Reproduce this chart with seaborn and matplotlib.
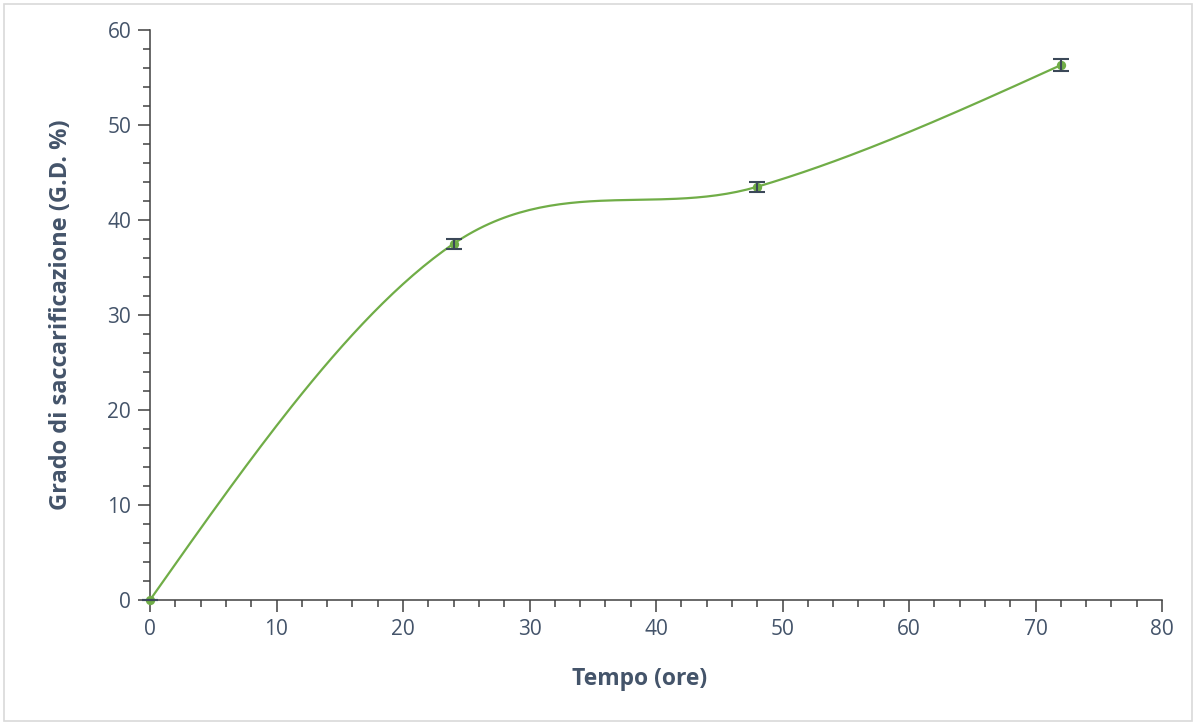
import numpy as np
import pandas as pd
import matplotlib
matplotlib.use("Agg")
import matplotlib.pyplot as plt
from matplotlib.patches import Rectangle
from matplotlib.ticker import MultipleLocator
import seaborn as sns

# Saccharification degree over time
tempo_ore = [0, 24, 48, 72]
grado_sacc = [0.0, 37.5, 43.5, 56.3]
errore = [0.0, 0.5, 0.5, 0.6]

x_ticks = [0, 10, 20, 30, 40, 50, 60, 70, 80]
y_ticks = [0, 10, 20, 30, 40, 50, 60]
x_label = "Tempo (ore)"
y_label = "Grado di saccarificazione (G.D. %)"

LINE_GREEN = "#70AD47"
TEXT_BLUE = "#44546A"
AXIS_GREY = "#404040"
ERR_COLOR = "#3B4858"


def smooth_curve(xp, yp, n=60):
    """Piecewise cubic Hermite curve through the points (Catmull-Rom tangents)."""
    xp = np.asarray(xp, float)
    yp = np.asarray(yp, float)
    k = len(xp)
    m = np.zeros(k)
    for i in range(1, k - 1):
        m[i] = (yp[i + 1] - yp[i - 1]) / (xp[i + 1] - xp[i - 1])
    m[0] = (3 * (yp[1] - yp[0]) / (xp[1] - xp[0]) - m[1]) / 2
    m[-1] = (3 * (yp[-1] - yp[-2]) / (xp[-1] - xp[-2]) - m[-2]) / 2
    xs, ys = [], []
    for i in range(k - 1):
        h = xp[i + 1] - xp[i]
        t = np.linspace(0, 1, n, endpoint=(i == k - 2))
        h00 = 2 * t**3 - 3 * t**2 + 1
        h10 = t**3 - 2 * t**2 + t
        h01 = -2 * t**3 + 3 * t**2
        h11 = t**3 - t**2
        xs.append(xp[i] + t * h)
        ys.append(h00 * yp[i] + h10 * h * m[i] + h01 * yp[i + 1] + h11 * h * m[i + 1])
    return np.concatenate(xs), np.concatenate(ys)


sns.set_theme(style="ticks")
plt.rcParams["font.family"] = ["Open Sans", "DejaVu Sans"]

fig = plt.figure(figsize=(11.96, 7.25), dpi=100)
ax = fig.add_axes([150 / 1196, 125 / 725, 1012 / 1196, 570 / 725])

df = pd.DataFrame({"tempo": tempo_ore, "grado": grado_sacc, "err": errore})
sx, sy = smooth_curve(df["tempo"], df["grado"])
curve = pd.DataFrame({"tempo": sx, "grado": sy})

sns.lineplot(data=curve, x="tempo", y="grado", sort=False, color=LINE_GREEN,
             linewidth=1.6, ax=ax, zorder=2)
sns.scatterplot(data=df, x="tempo", y="grado", color=LINE_GREEN, s=45,
                edgecolor=LINE_GREEN, linewidth=0, ax=ax, zorder=3, clip_on=False)
ax.errorbar(df["tempo"], df["grado"], yerr=df["err"], fmt="none",
            ecolor=ERR_COLOR, elinewidth=1.5, capsize=5.5, capthick=1.5,
            zorder=4, clip_on=False)

ax.set_xlim(0, 80)
ax.set_ylim(0, 60)
ax.set_xticks(x_ticks)
ax.set_yticks(y_ticks)
ax.xaxis.set_minor_locator(MultipleLocator(2))
ax.yaxis.set_minor_locator(MultipleLocator(2))

for side in ["top", "right"]:
    ax.spines[side].set_visible(False)
for side in ["left", "bottom"]:
    ax.spines[side].set_color(AXIS_GREY)
    ax.spines[side].set_linewidth(1.1)

ax.tick_params(which="major", length=8.5, width=1.1, color=AXIS_GREY,
               labelsize=15, labelcolor=TEXT_BLUE, direction="out")
ax.tick_params(which="minor", length=5, width=1.1, color=AXIS_GREY, direction="out")
ax.tick_params(axis="x", which="major", pad=5)
ax.tick_params(axis="y", which="major", pad=5)

ax.set_xlabel(x_label, fontsize=16.5, fontweight="bold", color=TEXT_BLUE)
ax.set_ylabel(y_label, fontsize=17, fontweight="bold", color=TEXT_BLUE)
ax.xaxis.set_label_coords((640 - 150) / 1012, (600 - 679) / 570)
ax.xaxis.label.set_va("center")
ax.yaxis.set_label_coords((61 - 150) / 1012, (600 - 315) / 570)
ax.yaxis.label.set_va("center")

fig.patches.append(Rectangle((4 / 1196, 4 / 725), 1188 / 1196, 717 / 725,
                             transform=fig.transFigure, fill=False,
                             edgecolor="#D9D9D9", linewidth=1.2))

fig.savefig("out.png", dpi=100, facecolor="white")
